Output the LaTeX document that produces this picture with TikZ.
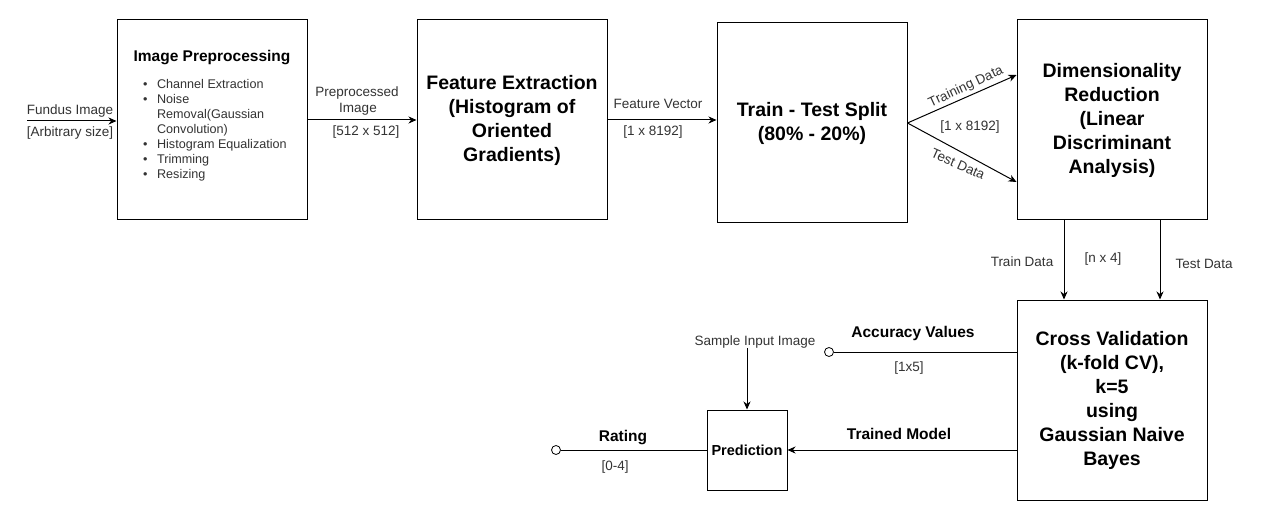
\documentclass[tikz,border=0pt]{standalone}
\usepackage{fontspec}
\setmainfont{Liberation Sans}
\usetikzlibrary{arrows.meta}
\newcommand\fsz[2]{\fontsize{#1}{#2}\selectfont}
\definecolor{labelgray}{RGB}{51,51,51}
\begin{document}
\begin{tikzpicture}[x=1pt,y=-1pt,
  box/.style={draw, line width=1pt, inner sep=0pt},
  lbl/.style={font=\fsz{13.5}{16}, text=labelgray, inner sep=0pt},
  blbl/.style={font=\bfseries\fsz{15.5}{18}, inner sep=0pt},
  big/.style={font=\bfseries\fsz{19.5}{24}, align=center},
  arr/.style={-{Stealth[length=8pt,width=7pt,inset=2.5pt]}, line width=1pt},
  ln/.style={line width=1pt},
  term/.style={circle, draw, line width=0.8pt, minimum size=9pt, inner sep=0pt}]
\useasboundingbox (0,0) rectangle (1263,521);
\fill[white] (0,0) rectangle (1263,521);

% boxes
\node[box, minimum width=190pt, minimum height=200pt] (pre) at (212,120) {};
\node[blbl] (pretitle) at (212,58) {Image Preprocessing};
\node[anchor=base west, inner sep=0pt, font=\fsz{12.6}{15}, text=labelgray] (prelist) at (143,88.5)
  {\begin{tabular}[t]{@{}l@{\hspace{9.5pt}}l@{}}
   \textbullet & Channel Extraction\\
   \textbullet & Noise\\
               & Removal(Gaussian\\
               & Convolution)\\
   \textbullet & Histogram Equalization\\
   \textbullet & Trimming\\
   \textbullet & Resizing
   \end{tabular}};

\node[box, big, minimum width=190pt, minimum height=200pt] (fe) at (512,120)
  {Feature Extraction\\(Histogram of\\Oriented\\Gradients)};
\node[box, big, minimum width=190pt, minimum height=200pt] (tt) at (812,123)
  {Train - Test Split\\(80\% - 20\%)};
\node[box, big, minimum width=190pt, minimum height=200pt] (dr) at (1112,120)
  {Dimensionality\\Reduction\\(Linear\\Discriminant\\Analysis)};
\node[box, big, minimum width=190pt, minimum height=200pt] (cv) at (1112,400)
  {Cross Validation\\(k-fold CV),\\k=5\\using\\Gaussian Naive\\Bayes};
\node[box, font=\bfseries\fsz{14.5}{17}, minimum width=80pt, minimum height=80pt] (pred) at (747,450) {Prediction};

% input
\coordinate (fin) at (27,121);
\draw[arr] (fin) -- (fin -| pre.west);
\node[lbl] (fundus) at (70,111) {Fundus Image};
\node[lbl] (arbsize) at (70,133) {[Arbitrary size]};

% pre -> fe
\draw[arr] (pre.east) -- (fe.west);
\node[lbl] (ppimg1) at (357,93) {Preprocessed};
\node[lbl] (ppimg2) at (358,109) {Image};
\node[lbl] (ppsize) at (366,132) {[512 x 512]};

% fe -> tt
\draw[arr] (fe.east) -- (fe.east -| tt.west);
\node[lbl] (fv) at (658,104) {Feature Vector};
\node[lbl] (fvsize) at (653,132) {[1 x 8192]};

% tt -> dr
\draw[arr] (tt.east) -- ([yshift=45pt]dr.west);
\draw[arr] (tt.east) -- ([yshift=-62pt]dr.west);
\node[lbl, rotate=25] (trd) at (966,87) {Training Data};
\node[lbl, rotate=-24] (ted) at (958,164) {Test Data};
\node[lbl] (ttsize) at (970,127) {[1 x 8192]};

% dr -> cv
\draw[arr] ([xshift=-48pt]dr.south) -- ([xshift=-48pt]cv.north);
\draw[arr] ([xshift=48pt]dr.south) -- ([xshift=48pt]cv.north);
\node[lbl] (trdata) at (1022,262) {Train Data};
\node[lbl] (nsize) at (1103,259) {[n x 4]};
\node[lbl] (tedata) at (1204,264) {Test Data};

% accuracy
\node[term] (acc) at (829,352) {};
\draw[ln] (acc -| cv.west) -- (acc);
\node[blbl] (accl) at (913,333) {Accuracy Values};
\node[lbl] (accsize) at (909,368) {[1x5]};

% sample input
\node[lbl] (sii) at (755,342) {Sample Input Image};
\draw[arr] (sii.south -| pred.north) -- (pred.north);

% trained model
\draw[arr] (pred -| cv.west) -- (pred.east);
\node[blbl] (tm) at (899,434) {Trained Model};

% rating
\node[term] (rat) at (556,450) {};
\draw[ln] (pred.west) -- (rat);
\node[blbl] (ratl) at (623,438) {Rating};
\node[lbl] (ratsize) at (615,467) {[0-4]};
\end{tikzpicture}
\end{document}
